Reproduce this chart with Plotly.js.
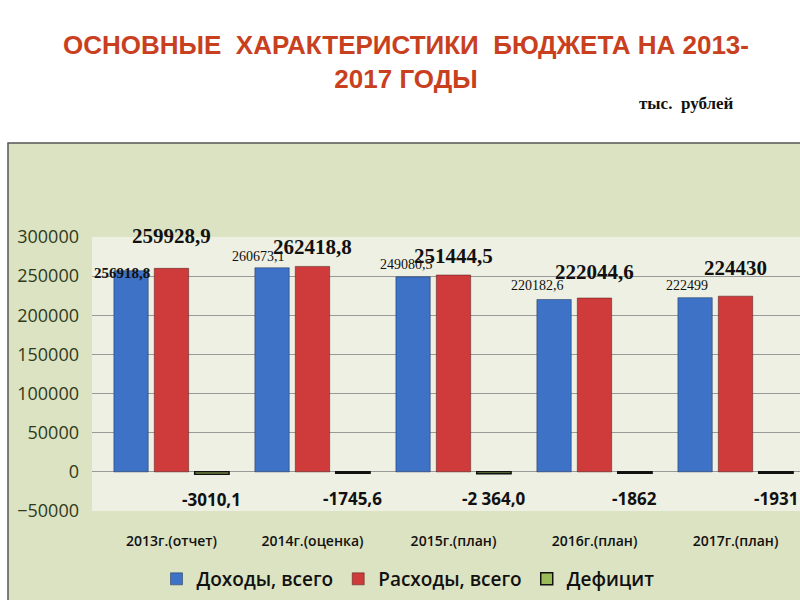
<!DOCTYPE html>
<html><head><meta charset="utf-8">
<script src="https://cdn.plot.ly/plotly-3.0.1.min.js"></script>
<style>html,body{margin:0;padding:0;background:#fff;overflow:hidden;}#chart{width:806px;height:600px;}</style>
</head><body><div id="chart"></div>
<script>
const categories = ["2013г.(отчет)", "2014г.(оценка)", "2015г.(план)", "2016г.(план)", "2017г.(план)"];
const income = [256918.8, 260673.1, 249080.5, 220182.6, 222499];
const expenses = [259928.9, 262418.8, 251444.5, 222044.6, 224430];
const deficit = [-3010.1, -1745.6, -2364.0, -1862, -1931];
const incomeText = ["256918,8", "260673,1", "249080,5", "220182,6", "222499"];
const expensesText = ["259928,9", "262418,8", "251444,5", "222044,6", "224430"];
const deficitText = ["-3010,1", "-1745,6", "-2 364,0", "-1862", "-1931"];
const seriesNames = ["Доходы, всего", "Расходы, всего", "Дефицит"];

// label placement (pixels), style only
const incomeShiftX = [-9, -14, -7, -17, -8];
const incomeShiftY = [-2, 11, 12, 14, 12];
const expShiftY = [32, 19, 19, 26, 28];

const W = 806, L = 92, PW = W - L;

const traces = [
  {type:'bar', name:seriesNames[0], x:categories, y:income,
   marker:{color:'#3d72c6', line:{color:'#1b2f55', width:0.5}}},
  {type:'bar', name:seriesNames[1], x:categories, y:expenses,
   marker:{color:'#cf3a3a', line:{color:'#4a1a1a', width:0.5}}},
  {type:'bar', name:seriesNames[2], x:categories, y:deficit,
   marker:{color:'#9bbb59', line:{color:'#111', width:1.5}}}
];

const off = 0.287;
const ann = [];
categories.forEach((c,i)=>{
  ann.push({x:i-off, y:income[i], xref:'x', yref:'y', text:(i===0?'<b>'+incomeText[i]+'</b>':incomeText[i]), showarrow:false,
    xshift:incomeShiftX[i], yshift:incomeShiftY[i], yanchor:'middle',
    font:{family:'Liberation Serif', size:(i===0?15:14), color:'#111'}});
  ann.push({x:i, y:expenses[i], xref:'x', yref:'y', text:'<b>'+expensesText[i]+'</b>', showarrow:false,
    yshift:expShiftY[i], yanchor:'middle',
    font:{family:'Liberation Serif', size:21, color:'#111'}});
  ann.push({x:i+off, y:deficit[i], xref:'x', yref:'y', text:'<b>'+deficitText[i]+'</b>', showarrow:false,
    yshift:-25, yanchor:'middle',
    font:{family:'Open Sans', size:17, color:'#111'}});
});
ann.push({xref:'paper', yref:'paper', x:(406-L)/PW, y:(511-62)/274, xanchor:'center', yanchor:'middle',
  text:'<b>ОСНОВНЫЕ  ХАРАКТЕРИСТИКИ  БЮДЖЕТА НА 2013-<br>2017 ГОДЫ</b>', showarrow:false,
  font:{family:'Liberation Sans Narrow, Liberation Sans', size:26, color:'#c8401e'}});
ann.push({xref:'paper', yref:'paper', x:(736-L)/PW, y:(511-103)/274, xanchor:'right', yanchor:'middle',
  text:'<b>тыс.  рублей</b>', showarrow:false,
  font:{family:'Liberation Serif', size:17, color:'#111'}});

const layout = {
  width:W, height:600,
  margin:{l:L, r:0, t:237, b:89},
  paper_bgcolor:'#ffffff', plot_bgcolor:'rgba(0,0,0,0)',
  barmode:'group', bargap:0.14, bargroupgap:0.15,
  showlegend:true,
  legend:{orientation:'h', x:(408-L)/PW, xanchor:'center', y:(511-579)/274, yanchor:'middle',
    font:{family:'Open Sans', size:19, color:'#111', weight:600}, bgcolor:'rgba(0,0,0,0)', traceorder:'normal'},
  xaxis:{type:'category', tickfont:{family:'Open Sans', size:14, color:'#111', weight:600},
    ticks:'', ticklabelstandoff:20, showline:false, showgrid:false},
  yaxis:{range:[-50000, 300000], dtick:50000, tickformat:'d',
    tickfont:{family:'Open Sans', size:18, color:'#2f3a1a'},
    gridcolor:'#9a9a9a', gridwidth:1, zeroline:true, zerolinecolor:'#9a9a9a', zerolinewidth:1,
    showline:false, ticks:'', ticklabelstandoff:12},
  shapes:[
    {type:'rect', xref:'paper', yref:'paper', x0:(8-L)/PW, x1:1.01, y0:-0.34, y1:(511-143)/274,
      fillcolor:'#dce3c2', line:{color:'#555', width:1.5}, layer:'below'},
    {type:'rect', xref:'paper', yref:'paper', x0:0, x1:1.01, y0:0, y1:1,
      fillcolor:'#eef0e3', line:{width:0}, layer:'below'}
  ],
  annotations:ann
};
Plotly.newPlot('chart', traces, layout, {staticPlot:true, displayModeBar:false});
</script></body></html>
